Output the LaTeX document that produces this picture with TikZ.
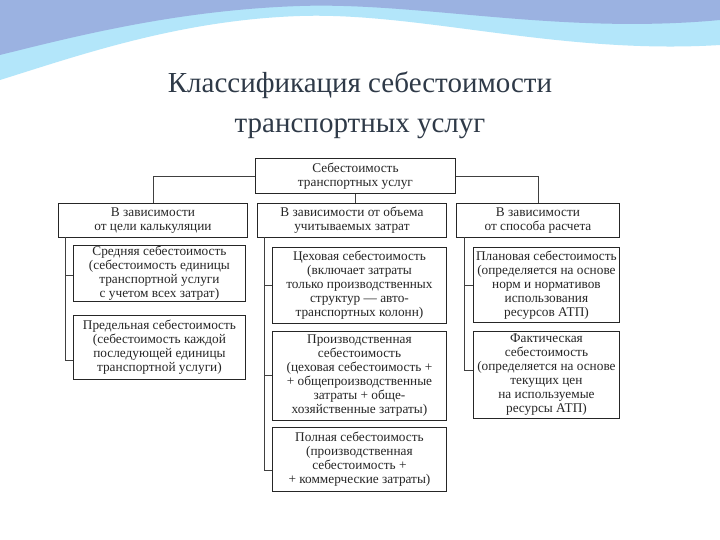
\documentclass[tikz,border=0pt]{standalone}
\usepackage{fontspec}
\setmainfont{Liberation Serif}
\definecolor{ttl}{HTML}{2F3A48}
\begin{document}
\begin{tikzpicture}[x=1pt,y=-1pt,
 bx/.style={draw=black!85,line width=0.9pt,align=center,inner sep=1pt,font=\fontsize{13.3}{14}\selectfont,anchor=north west,text=black!85},
 ln/.style={draw=black!75,line width=0.8pt}]
\useasboundingbox (0,0) rectangle (720,540);
\fill[white] (0,0) rectangle (720,540);
\fill[cyan!30!white] (0,0) -- (720,0) -- (720,45) .. controls (560,55) and (420,12) .. (300,16) .. controls (180,20) and (80,55) .. (0,80) -- cycle;
\fill[cyan!45!blue!40] (0,0) -- (720,0) -- (720,20) .. controls (560,35) and (420,2) .. (300,6) .. controls (180,10) and (80,35) .. (0,55) -- cycle;
\node[font=\fontsize{29}{40}\selectfont,text=ttl,align=center] (t) at (360,105) {Классификация себестоимости\\транспортных услуг};
\node[bx,minimum width=200,minimum height=35] (top) at (255,158) {Себестоимость\\транспортных услуг};
\node[bx,minimum width=189,minimum height=34] (h1) at (58,203) {В зависимости\\от цели калькуляции};
\node[bx,minimum width=189,minimum height=34] (h2) at (257,203) {В зависимости от объема\\учитываемых затрат};
\node[bx,minimum width=163,minimum height=34] (h3) at (456,203) {В зависимости\\от способа расчета};
\node[bx,minimum width=172,minimum height=56] (a1) at (73,245) {Средняя себестоимость\\(себестоимость единицы\\транспортной услуги\\с учетом всех затрат)};
\node[bx,minimum width=172,minimum height=64] (a2) at (73,315) {Предельная себестоимость\\(себестоимость каждой\\последующей единицы\\транспортной услуги)};
\node[bx,minimum width=174,minimum height=76] (b1) at (272,247) {Цеховая себестоимость\\(включает затраты\\только производственных\\структур — авто-\\транспортных колонн)};
\node[bx,minimum width=174,minimum height=89] (b2) at (272,331) {Производственная\\себестоимость\\(цеховая себестоимость +\\+ общепроизводственные\\затраты + общe-\\хозяйственные затраты)};
\node[bx,minimum width=174,minimum height=64] (b3) at (272,427) {Полная себестоимость\\(производственная\\себестоимость +\\+ коммерческие затраты)};
\node[bx,minimum width=146,minimum height=75] (c1) at (473,247) {Плановая себестоимость\\(определяется на основе\\норм и нормативов\\использования\\ресурсов АТП)};
\node[bx,minimum width=146,minimum height=87] (c2) at (473,331) {Фактическая\\себестоимость\\(определяется на основе\\текущих цен\\на используемые\\ресурсы АТП)};
\draw[ln] (top.west) -| (h1.north);
\draw[ln] (top.east) -| (h3.north);
\draw[ln] (top.south) -- (top.south |- h2.north);
\coordinate (l1) at (65,237); \coordinate (l2) at (65,360);
\draw[ln] (l1) -- (l2) -- (a2.west |- l2);
\draw[ln] (65,275) -- (a1.west |- 0,275);
\coordinate (m1) at (264,237); \coordinate (m2) at (264,470);
\draw[ln] (m1) -- (m2) -- (b3.west |- m2);
\draw[ln] (264,285) -- (b1.west |- 0,285);
\draw[ln] (264,375) -- (b2.west |- 0,375);
\coordinate (r1) at (464,237); \coordinate (r2) at (464,370);
\draw[ln] (r1) -- (r2) -- (c2.west |- r2);
\draw[ln] (464,285) -- (c1.west |- 0,285);
\end{tikzpicture}
\end{document}
